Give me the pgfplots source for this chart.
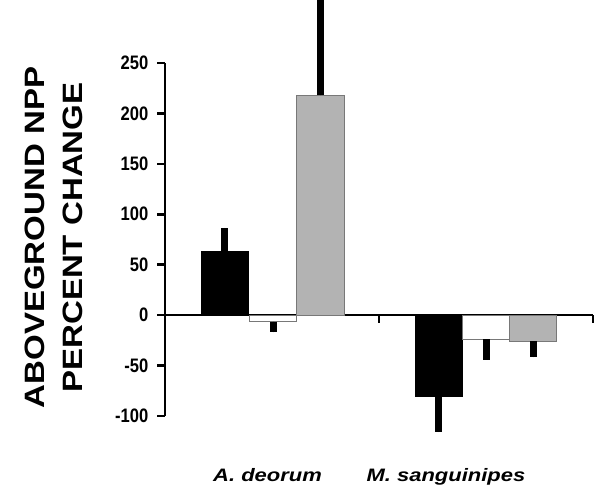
\documentclass[border=0pt]{standalone}
\usepackage{pgfplots}
\pgfplotsset{compat=1.18}
\usepackage{fontspec}
\setmainfont{Liberation Sans}
\newfontfamily\narrowfont[FakeStretch=0.85]{Liberation Sans}
\newfontfamily\widefont[FakeStretch=1.18]{Liberation Sans}
\newfontfamily\catfont[FakeStretch=1.22]{Liberation Sans}
\newcommand\tickfont{\narrowfont\bfseries\fontsize{19.5}{20}\selectfont}
\definecolor{barGray}{RGB}{179,179,179}
\definecolor{edgeGray}{RGB}{120,120,120}
\begin{document}
\begin{tikzpicture}
\begin{axis}[
    scale only axis,
    width=428pt, height=353pt,
    xmin=0, xmax=2,
    ymin=-100, ymax=250,
    axis x line*=middle,
    axis y line*=left,
    axis line style={line width=2.5pt, black},
    xtick={1,2},
    xticklabels={},
    ytick={-100,-50,0,50,100,150,200,250},
    yticklabels={-100,-50,0,50,100,150,200,250},
    tick align=outside,
    major tick length=7.5pt,
    tick style={line width=2.5pt, black},
    y tick label style={font=\tickfont, inner sep=0pt, xshift=-9pt},
    clip=false,
    ybar,
    bar width=47.5pt,
    error bars/y dir=both,
    error bars/y explicit,
    error bars/error mark=none,
    error bars/error bar style={line width=7pt, black},
]
% A. deorum / M. sanguinipes, treatment 1
\addplot[bar shift=0pt, fill=black, draw=black, line width=1pt]
    coordinates {(0.28,63.5) += (0,23) -= (0,0)
                 (1.28,-80.5) += (0,0) -= (0,35.5)};
% treatment 2
\addplot[bar shift=0pt, fill=white, draw=edgeGray, line width=1pt]
    coordinates {(0.505,-6.5) += (0,0) -= (0,10.5)
                 (1.5,-24) += (0,0) -= (0,20)};
% treatment 3
\addplot[bar shift=0pt, fill=barGray, draw=edgeGray, line width=1pt]
    coordinates {(0.727,218) += (0,94.5) -= (0,0)
                 (1.72,-26) += (0,0) -= (0,16)};

\node[font=\catfont\bfseries\itshape\fontsize{18}{20}\selectfont, anchor=base]
    at (axis cs:0.479,-164.5) {A. deorum};
\node[font=\catfont\bfseries\itshape\fontsize{18}{20}\selectfont, anchor=base]
    at (axis cs:1.313,-164.5) {M. sanguinipes};
\node[font=\widefont\bfseries\fontsize{28}{30}\selectfont, rotate=90, inner sep=0pt]
    at (axis cs:-0.6075,76.9) {ABOVEGROUND NPP};
\node[font=\widefont\bfseries\fontsize{28}{30}\selectfont, rotate=90, inner sep=0pt]
    at (axis cs:-0.43,76.9) {PERCENT CHANGE};

\coordinate (bl) at (axis cs:-0.77103,-168.41);
\coordinate (tr) at (axis cs:2.00467,312.46);
\end{axis}
\pgfresetboundingbox
\path[use as bounding box] (bl) rectangle (tr);
\end{tikzpicture}
\end{document}
